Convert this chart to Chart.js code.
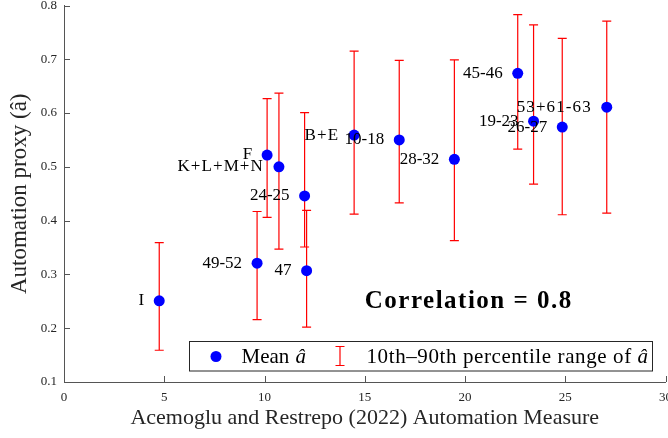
<!DOCTYPE html>
<html>
<head>
<meta charset="utf-8">
<script src="https://cdn.jsdelivr.net/npm/chart.js@4.4.1/dist/chart.umd.min.js"></script>
<style>
html, body { margin: 0; padding: 0; background: #fff; overflow: hidden; width: 668px; height: 438px; }
canvas { display: block; }
</style>
</head>
<body>
<canvas id="grafico" width="671" height="438"></canvas>
<script>

// sectores y valores
const sectores =
["I", "49-52", "47", "24-25", "F", "K+L+M+N", "B+E", "10-18", "28-32", "45-46", "19-23", "26-27", "53+61-63"];

const medidaAR =
[4.75, 9.63, 12.1, 12.0, 10.13, 10.72, 14.47, 16.72, 19.47, 22.63, 23.42, 24.85, 27.07];

const mediaA =
[0.251, 0.321, 0.307, 0.446, 0.522, 0.500, 0.559, 0.550, 0.514, 0.674, 0.585, 0.574, 0.611];

const p10 =
[0.159, 0.216, 0.202, 0.351, 0.406, 0.347, 0.412, 0.433, 0.363, 0.533, 0.468, 0.411, 0.414];

const p90 =
[0.359, 0.417, 0.419, 0.601, 0.627, 0.637, 0.715, 0.698, 0.699, 0.783, 0.764, 0.739, 0.771];

const ticksX = [0, 5, 10, 15, 20, 25, 30];

const ticksY = [0.1, 0.2, 0.3, 0.4, 0.5, 0.6, 0.7, 0.8];

const correlacion = "Correlation = 0.8";

const serif = "'Liberation Serif', 'Times New Roman', serif";

const colorEje = "#555555";

const barrasError = {

    id: "barrasError",

    beforeDatasetsDraw(chart){

        const ctx = chart.ctx;
        const x = chart.scales.x;
        const y = chart.scales.y;

        ctx.save();
        ctx.strokeStyle = "#ff0000";
        ctx.lineWidth = 1.2;

        medidaAR.forEach((v, i) => {

            const px = x.getPixelForValue(v);
            const arriba = y.getPixelForValue(p90[i]);
            const abajo = y.getPixelForValue(p10[i]);

            ctx.beginPath();
            ctx.moveTo(px, arriba);
            ctx.lineTo(px, abajo);
            ctx.moveTo(px - 4.5, arriba);
            ctx.lineTo(px + 4.5, arriba);
            ctx.moveTo(px - 4.5, abajo);
            ctx.lineTo(px + 4.5, abajo);
            ctx.stroke();

        });

        ctx.restore();

    },

    afterDatasetsDraw(chart){

        const ctx = chart.ctx;
        const x = chart.scales.x;
        const y = chart.scales.y;

        ctx.save();
        ctx.font = "17px " + serif;
        ctx.fillStyle = "#000";
        ctx.textAlign = "right";
        ctx.textBaseline = "middle";

        sectores.forEach((s, i) => {

            ctx.letterSpacing = s.includes("+") ? "1.1px" : "0px";

            ctx.fillText(
                s,
                x.getPixelForValue(medidaAR[i]) - 15,
                y.getPixelForValue(mediaA[i])
            );

        });

        ctx.restore();

    },

    afterDraw(chart){

        const ctx = chart.ctx;
        const x = chart.scales.x;
        const y = chart.scales.y;
        const area = chart.chartArea;

        ctx.save();

        // marcas de eje hacia adentro
        ctx.strokeStyle = colorEje;
        ctx.lineWidth = 1;
        ctx.beginPath();

        ticksX.forEach(v => {
            const px = Math.round(x.getPixelForValue(v)) + 0.5;
            ctx.moveTo(px, area.bottom);
            ctx.lineTo(px, area.bottom - 6);
        });

        ticksY.forEach(v => {
            const py = Math.round(y.getPixelForValue(v)) + 0.5;
            ctx.moveTo(area.left, py);
            ctx.lineTo(area.left + 6, py);
        });

        ctx.stroke();

        // texto de correlacion
        ctx.font = "bold 25px " + serif;
        ctx.letterSpacing = "1.5px";
        ctx.fillStyle = "#000";
        ctx.textAlign = "left";
        ctx.textBaseline = "middle";
        ctx.fillText(
            correlacion,
            x.getPixelForValue(15),
            y.getPixelForValue(0.25)
        );
        ctx.letterSpacing = "0px";

        // leyenda
        const lx = 189.5;
        const ly = 341.5;

        ctx.fillStyle = "#fff";
        ctx.fillRect(lx, ly, 463, 29.5);
        ctx.strokeStyle = "#262626";
        ctx.strokeRect(lx, ly, 463, 29.5);

        ctx.fillStyle = "#0000ff";
        ctx.beginPath();
        ctx.arc(lx + 26.5, ly + 15, 5.5, 0, Math.PI * 2);
        ctx.fill();

        ctx.fillStyle = "#000";
        ctx.font = "21px " + serif;
        ctx.fillText("Mean ", lx + 52, ly + 16);
        let w = ctx.measureText("Mean ").width;
        ctx.font = "italic 21px " + serif;
        ctx.fillText("â", lx + 52 + w + 1, ly + 16);

        ctx.strokeStyle = "#ff0000";
        ctx.lineWidth = 1.2;
        ctx.beginPath();
        ctx.moveTo(lx + 150.5, ly + 5);
        ctx.lineTo(lx + 150.5, ly + 24);
        ctx.moveTo(lx + 146, ly + 5);
        ctx.lineTo(lx + 155, ly + 5);
        ctx.moveTo(lx + 146, ly + 24);
        ctx.lineTo(lx + 155, ly + 24);
        ctx.stroke();

        ctx.fillStyle = "#000";
        ctx.font = "21px " + serif;
        ctx.letterSpacing = "0.6px";
        const texto = "10th\u201390th percentile range of ";
        ctx.fillText(texto, lx + 177, ly + 16);
        w = ctx.measureText(texto).width;
        ctx.font = "italic 21px " + serif;
        ctx.fillText("â", lx + 177 + w, ly + 16);

        ctx.restore();

    }

};

new Chart(

    document.getElementById("grafico"),

    {

        type: "scatter",

        data: {

            datasets: [{

                label: "Mean â",

                data: medidaAR.map((v, i) => ({ x: v, y: mediaA[i] })),

                backgroundColor: "#0000ff",

                borderWidth: 0,

                pointRadius: 5.5,

                pointHoverRadius: 5.5

            }]

        },

        options: {

            responsive: false,

            animation: false,

            layout: {
                padding: { top: 5, right: 0, left: 0, bottom: 0 }
            },

            plugins: {
                legend: { display: false },
                tooltip: { enabled: false }
            },

            scales: {

                x: {

                    type: "linear",
                    min: 0,
                    max: 30,

                    afterBuildTicks: s => {
                        s.ticks = ticksX.map(v => ({ value: v }));
                    },

                    afterFit: s => {
                        s.height = 56;
                        s.paddingLeft = 0;
                        s.paddingRight = 0;
                    },

                    grid: {
                        display: true,
                        drawOnChartArea: false,
                        drawTicks: false
                    },

                    border: { display: true, color: colorEje, width: 1 },

                    ticks: {
                        padding: 8,
                        color: "#262626",
                        font: { family: serif, size: 13 },
                        maxRotation: 0
                    },

                    title: {
                        display: true,
                        text: "Acemoglu and Restrepo (2022) Automation Measure",
                        color: "#262626",
                        font: { family: serif, size: 22 },
                        padding: { top: 0, bottom: 7 }
                    }

                },

                y: {

                    type: "linear",
                    min: 0.1,
                    max: 0.8,

                    afterBuildTicks: s => {
                        s.ticks = ticksY.map(v => ({ value: v }));
                    },

                    afterFit: s => {
                        s.width = 64;
                        s.paddingTop = 0;
                        s.paddingBottom = 0;
                    },

                    grid: {
                        display: true,
                        drawOnChartArea: false,
                        drawTicks: false
                    },

                    border: { display: true, color: colorEje, width: 1 },

                    ticks: {
                        padding: 7,
                        color: "#262626",
                        font: { family: serif, size: 13 },
                        callback: v => v.toFixed(1)
                    },

                    title: {
                        display: true,
                        text: "Automation proxy (â)",
                        color: "#262626",
                        font: { family: serif, size: 23 },
                        padding: { top: 6, bottom: 0 }
                    }

                }

            }

        },

        plugins: [barrasError]

    }

);

</script>
</body>
</html>
